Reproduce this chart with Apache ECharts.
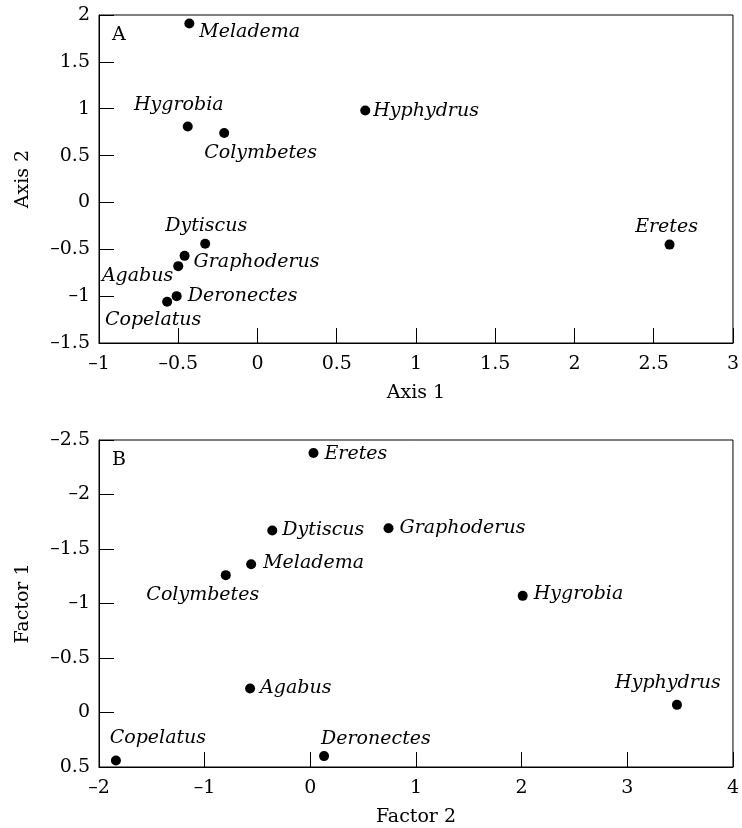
<!DOCTYPE html>
<html>
<head>
<meta charset="utf-8">
<script src="https://cdn.jsdelivr.net/npm/echarts@6/dist/echarts.min.js"></script>
<style>
html,body{margin:0;padding:0;background:#fff;}
#chart{width:742px;height:828px;}
</style>
</head>
<body>
<div id="chart"></div>
<script>
// ---- Data: panel A ----
const speciesA = ['Meladema','Hygrobia','Colymbetes','Hyphydrus','Eretes','Dytiscus','Graphoderus','Agabus','Deronectes','Copelatus'];
const axis1 = [-0.43, -0.44, -0.21, 0.68, 2.60, -0.33, -0.46, -0.50, -0.51, -0.57];
const axis2 = [1.91, 0.81, 0.74, 0.98, -0.45, -0.44, -0.57, -0.68, -1.00, -1.06];

// ---- Data: panel B ----
const speciesB = ['Eretes','Dytiscus','Graphoderus','Meladema','Colymbetes','Hygrobia','Agabus','Hyphydrus','Copelatus','Deronectes'];
const factor2 = [0.03, -0.36, 0.74, -0.56, -0.80, 2.01, -0.57, 3.47, -1.84, 0.13];
const factor1 = [-2.38, -1.67, -1.69, -1.36, -1.26, -1.07, -0.22, -0.07, 0.44, 0.40];

// ---- Layout (label placement relative to the dot) ----
const labelPlaceA = {
  Meladema:['left',10,9], Hygrobia:['center',-9,-21], Colymbetes:['left',-20,20],
  Hyphydrus:['left',8,0], Eretes:['center',-3,-18], Dytiscus:['center',1,-18],
  Graphoderus:['left',9,6], Agabus:['right',-5,10], Deronectes:['left',11,0],
  Copelatus:['center',-14,18]
};
const labelPlaceB = {
  Eretes:['left',11,1], Dytiscus:['left',10,0], Graphoderus:['left',11,0],
  Meladema:['left',12,-1], Colymbetes:['center',-23,20], Hygrobia:['left',11,-2],
  Agabus:['left',10,0], Hyphydrus:['center',-9,-22], Copelatus:['center',42,-22],
  Deronectes:['left',-3,-17]
};

const FONT = 'DejaVu Serif';
const FS = 19;
const fmt = v => (v < 0 ? '\u2013' + String(-v) : String(v));

function buildPoints(names, xs, ys, place) {
  return names.map((n, i) => ({
    name: n,
    value: [xs[i], ys[i]],
    label: { align: place[n][0] }
  }));
}

function xAxisCfg(idx, min, max, interval, name) {
  return {
    gridIndex: idx, type: 'value', min, max, interval,
    name, nameLocation: 'middle', nameGap: 41,
    nameTextStyle: { fontFamily: FONT, fontSize: FS, color: '#000' },
    axisLine: { show: true, onZero: false, lineStyle: { color: '#000', width: 1 } },
    axisTick: { show: true, inside: true, length: 15, lineStyle: { color: '#000', width: 1 } },
    axisLabel: { fontFamily: FONT, fontSize: FS, color: '#000', margin: 12, formatter: fmt, showMinLabel: true, showMaxLabel: true },
    splitLine: { show: false }
  };
}
function yAxisCfg(idx, min, max, interval, name, inverse) {
  return {
    gridIndex: idx, type: 'value', min, max, interval, inverse,
    name, nameLocation: 'middle', nameGap: 66, nameRotate: 90,
    nameTextStyle: { fontFamily: FONT, fontSize: FS, color: '#000' },
    axisLine: { show: true, onZero: false, lineStyle: { color: '#000', width: 1 } },
    axisTick: { show: true, inside: true, length: 15, lineStyle: { color: '#000', width: 1 } },
    axisLabel: { fontFamily: FONT, fontSize: FS, color: '#000', margin: 9, formatter: fmt, showMinLabel: true, showMaxLabel: true },
    splitLine: { show: false }
  };
}

function seriesCfg(idx, names, data, place) {
  return {
    type: 'scatter', xAxisIndex: idx, yAxisIndex: idx,
    symbol: 'circle', symbolSize: 10,
    itemStyle: { color: '#000', opacity: 1 },
    data,
    label: {
      show: true, position: 'inside', verticalAlign: 'middle',
      formatter: p => p.name,
      fontFamily: FONT, fontSize: FS, fontStyle: 'italic', color: '#000'
    },
    labelLayout: params => {
      const p = place[names[params.dataIndex]];
      return { dx: p[1], dy: p[2], hideOverlap: false };
    },
    emphasis: { disabled: true },
    silent: true, animation: false
  };
}

const chart = echarts.init(document.getElementById('chart'), null, { renderer: 'canvas' });
chart.setOption({
  backgroundColor: '#fff',
  animation: false,
  grid: [
    { left: 99, top: 15, width: 636, height: 328, show: true, borderColor: '#000', borderWidth: 1, backgroundColor: 'transparent' },
    { left: 99, top: 440, width: 636, height: 328, show: true, borderColor: '#000', borderWidth: 1, backgroundColor: 'transparent' }
  ],
  xAxis: [
    xAxisCfg(0, -1, 3, 0.5, 'Axis 1'),
    xAxisCfg(1, -2, 4, 1, 'Factor 2')
  ],
  yAxis: [
    yAxisCfg(0, -1.5, 2, 0.5, 'Axis 2', false),
    yAxisCfg(1, -2.5, 0.5, 0.5, 'Factor 1', true)
  ],
  graphic: [
    { type: 'text', left: 112, top: 26, style: { text: 'A', font: FS + 'px "' + FONT + '"', fill: '#000' } },
    { type: 'text', left: 112, top: 451, style: { text: 'B', font: FS + 'px "' + FONT + '"', fill: '#000' } }
  ],
  series: [
    seriesCfg(0, speciesA, buildPoints(speciesA, axis1, axis2, labelPlaceA), labelPlaceA),
    seriesCfg(1, speciesB, buildPoints(speciesB, factor2, factor1, labelPlaceB), labelPlaceB)
  ]
});
</script>
</body>
</html>
